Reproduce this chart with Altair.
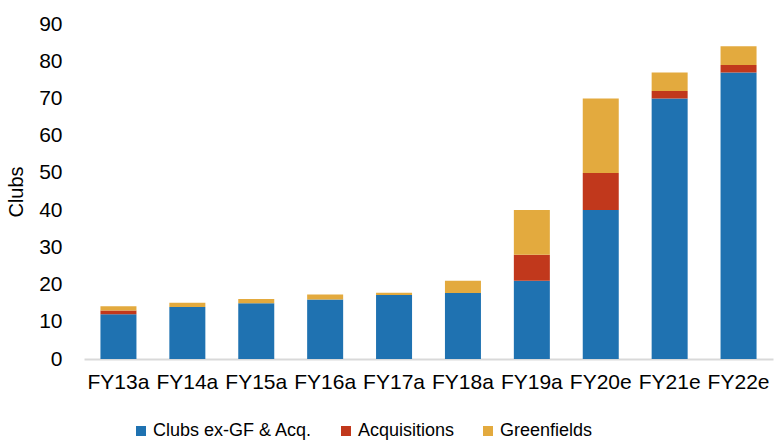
import altair as alt
import pandas as pd

years = ["FY13a", "FY14a", "FY15a", "FY16a", "FY17a", "FY18a", "FY19a", "FY20e", "FY21e", "FY22e"]
clubs = [12, 14, 15, 16, 17.2, 17.7, 21, 40, 70, 77]
acquisitions = [1, 0, 0, 0, 0, 0, 7, 10, 2, 2]
greenfields = [1.2, 1.1, 1.1, 1.3, 0.6, 3.3, 12, 20, 5, 5]

series = ["Clubs ex-GF & Acq.", "Acquisitions", "Greenfields"]
colors = ["#1f72b1", "#c1381c", "#e3aa3e"]

rows = []
for i, y in enumerate(years):
    for k, (name, vals) in enumerate(zip(series, [clubs, acquisitions, greenfields])):
        rows.append({"year": y, "series": name, "value": vals[i], "order": k})
df = pd.DataFrame(rows)

FONT = "Liberation Sans"

chart = alt.Chart(df).mark_bar(size=36).encode(
    x=alt.X("year:N", sort=years, title=None,
            scale=alt.Scale(paddingInner=0.48, paddingOuter=0.24),
            axis=alt.Axis(labelAngle=0, ticks=False, labelPadding=12, labelFontSize=21,
                          labelColor="#000000", domainColor="#d9d9d9", domainWidth=2,
                          labelFont=FONT, labelOverlap=False)),
    y=alt.Y("value:Q", stack="zero", title="Clubs",
            scale=alt.Scale(domain=[0, 90]),
            axis=alt.Axis(values=list(range(0, 91, 10)), grid=False, ticks=False, domain=False,
                          labelPadding=22, labelFontSize=21, labelColor="#000000",
                          labelFont=FONT, titleFont=FONT, titleFontSize=20,
                          titleFontWeight="normal", titleColor="#000000", titlePadding=12)),
    color=alt.Color("series:N", sort=series,
                    scale=alt.Scale(domain=series, range=colors),
                    legend=alt.Legend(title=None, orient="none", direction="horizontal",
                                      legendX=48, legendY=398, symbolType="square",
                                      symbolSize=100, symbolStrokeWidth=0,
                                      labelFontSize=18, labelFont=FONT, labelColor="#000000",
                                      labelOffset=3, columnPadding=24)),
    order=alt.Order("order:Q", sort="ascending"),
).properties(
    width=689, height=335,
    background="white",
    autosize=alt.AutoSizeParams(type="none"),
    padding={"left": 84, "top": 24, "right": 1, "bottom": 84},
).configure_view(stroke=None)

chart.save("out.html", embed_options={"renderer": "svg", "actions": False})
